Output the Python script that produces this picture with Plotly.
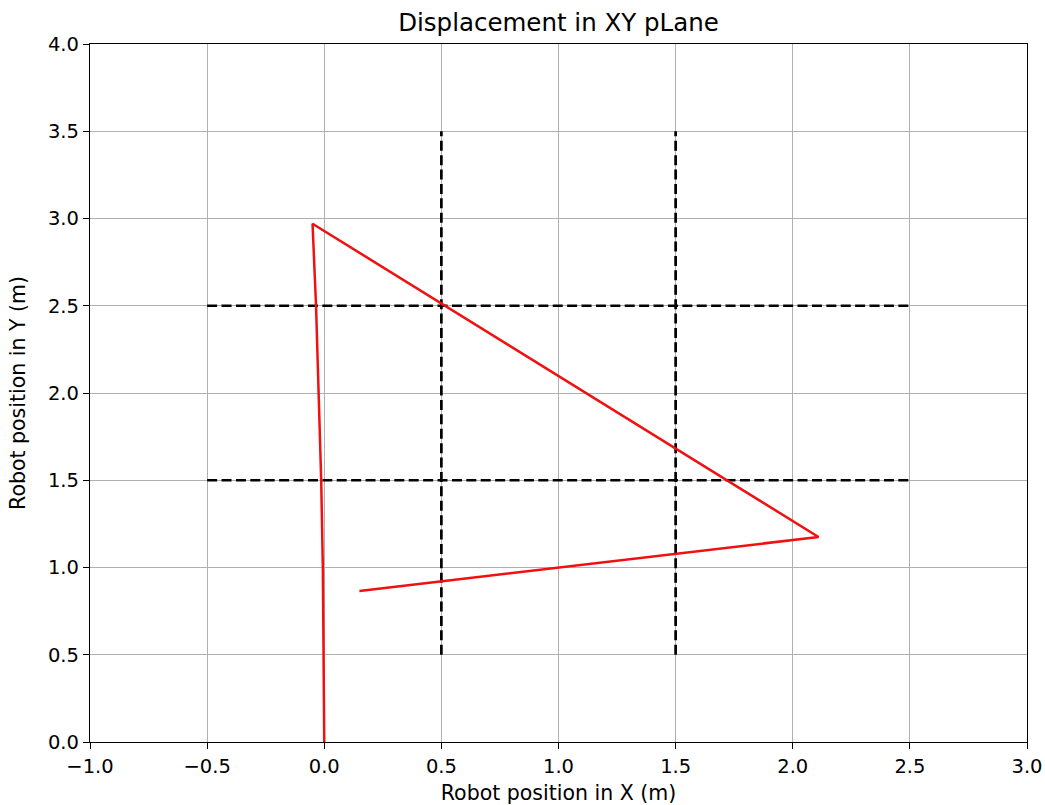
import plotly.graph_objects as go

# Robot path
path_x = [0.0, -0.0015, -0.006, -0.013, -0.023, -0.029, -0.035, -0.043, -0.050, 2.11, 0.15]
path_y = [0.0, 0.5, 1.0, 1.5, 2.0, 2.25, 2.5, 2.75, 2.97, 1.175, 0.865]

# Dashed grid of the field
h_lines_y = [2.5, 1.5]
h_lines_x = [-0.5, 2.5]
v_lines_x = [0.5, 1.5]
v_lines_y = [0.5, 3.5]

x_ticks = [-1.0, -0.5, 0.0, 0.5, 1.0, 1.5, 2.0, 2.5, 3.0]
y_ticks = [0.0, 0.5, 1.0, 1.5, 2.0, 2.5, 3.0, 3.5, 4.0]

FONT = "DejaVu Sans"

fig = go.Figure()
for y in h_lines_y:
    fig.add_trace(go.Scatter(x=h_lines_x, y=[y, y], mode="lines",
                             line=dict(color="black", width=2.7, dash="10px,4.4px"),
                             showlegend=False))
for x in v_lines_x:
    fig.add_trace(go.Scatter(x=[x, x], y=v_lines_y, mode="lines",
                             line=dict(color="black", width=2.7, dash="10px,4.4px"),
                             showlegend=False))
fig.add_trace(go.Scatter(x=path_x, y=path_y, mode="lines",
                         line=dict(color="#f01010", width=2.5),
                         showlegend=False))

axis_common = dict(
    showgrid=True, gridcolor="#b0b0b0", gridwidth=1.3,
    showline=True, linecolor="black", linewidth=1.4, mirror=True,
    ticks="outside", ticklen=6, tickcolor="black", tickwidth=1.4,
    zeroline=False, automargin=False,
    tickfont=dict(family=FONT, size=19.5, color="black"),
)
fig.update_xaxes(range=[-1.0, 3.0], tickvals=x_ticks,
                 ticktext=[f"{v:.1f}".replace("-", "\u2212") for v in x_ticks],
                 title=dict(text="Robot position in X (m)", standoff=11,
                            font=dict(family=FONT, size=20.5, color="black")),
                 **axis_common)
fig.update_yaxes(range=[0.0, 4.0], tickvals=y_ticks,
                 ticktext=[f"{v:.1f}" for v in y_ticks],
                 title=dict(text="Robot position in Y (m)", standoff=16,
                            font=dict(family=FONT, size=20.5, color="black")),
                 **axis_common)
fig.update_layout(
    width=1045, height=805,
    margin=dict(l=90, r=18, t=44, b=63, autoexpand=False),
    plot_bgcolor="white", paper_bgcolor="white",
    title=dict(text="Displacement in XY pLane", x=0.5, xref="paper",
               xanchor="center",
               y=1 - 22 / 805, yanchor="middle",
               font=dict(family=FONT, size=24.5, color="black")),
)
fig.write_html("out.html")
